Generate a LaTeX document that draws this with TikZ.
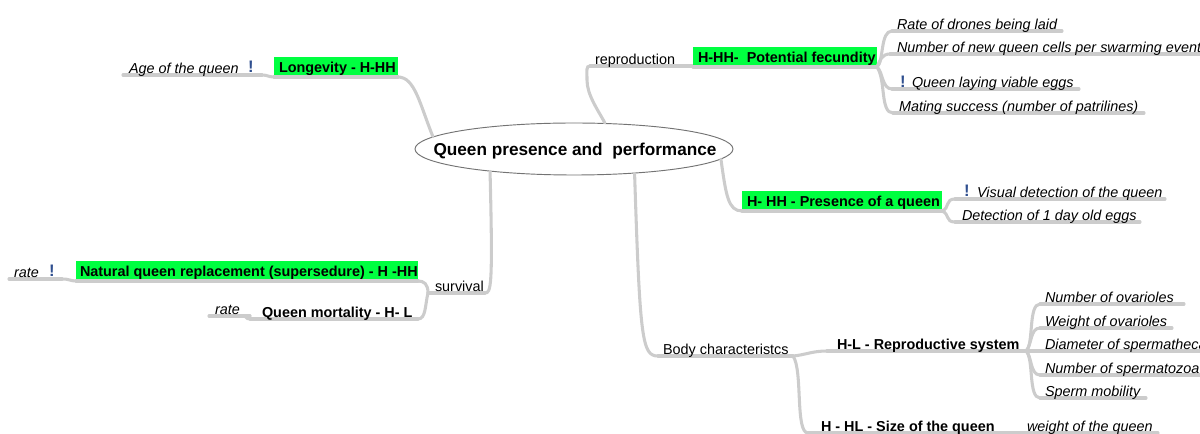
\documentclass[tikz,border=0pt]{standalone}
\usepackage{fontspec}
\usetikzlibrary{shapes.geometric,backgrounds}
\setmainfont{Liberation Sans}
\newlength\px \setlength\px{0.75pt}
\definecolor{branch}{HTML}{CCCCCC}
\definecolor{hl}{HTML}{00FF40}
\definecolor{icon}{HTML}{2F4F8F}
\tikzset{
  line/.style={draw=branch,line width=2.3pt,line cap=round},
  base/.style={anchor=south west,inner sep=0pt,outer sep=0pt,font=\fontsize{10.8}{12}\selectfont,text height=12.5\px,text depth=1.5\px},
  leaf/.style={base,font=\fontsize{10.8}{12}\selectfont\itshape},
  plain/.style={base},
  strong/.style={base,font=\fontsize{10.8}{12}\selectfont\bfseries},
  green/.style={base,font=\fontsize{10.8}{12}\selectfont\bfseries,fill=hl,text height=16\px,text depth=4\px},
  warn/.style={inner sep=0pt,text=icon,font=\fontsize{12.5}{13}\selectfont\bfseries}
}
% name, x0, x1, y of underline, style, text offset, text
\newcommand\tp[7]{%
  \node[#5] (#1) at (#2,#4) {\makebox[\dimexpr#3\px-#2\px\relax][l]{\hspace*{#6\px}#7}};
  \begin{pgfonlayer}{background}
  \draw[line] (#1.south west) -- (#1.south east);
  \end{pgfonlayer}
}
% same, for a green box, whose fill would hide a line drawn behind it
\newcommand\tpg[6]{%
  \node[green] (#1) at (#2,#4) {\makebox[\dimexpr#3\px-#2\px\relax][l]{\hspace*{#5\px}#6}};
  \draw[line] (#1.south west) -- (#1.south east);
}
\begin{document}
\begin{tikzpicture}[x=0.75pt,y=-0.75pt]
\useasboundingbox (0,0) rectangle (1200,434);
\node[ellipse,draw=black!55,fill=white,line width=0.7pt,minimum width=318\px,minimum height=52\px,inner sep=0pt,text height=16\px,text depth=2\px,font=\fontsize{12.9}{14}\selectfont\bfseries] (root) at (574,149) {\makebox[0pt]{\hspace*{2\px}Queen presence and\ \ performance}};
% upper left
\tp{age}{123}{262}{75}{leaf}{6}{Age of the queen}
\tpg{long}{274}{398}{77}{5}{Longevity - H-HH}
\node[warn] (w1) at (251,67) {!};
% left lower
\tp{rate1}{9}{62}{279}{leaf}{5}{rate}
\tpg{nat}{76}{418}{281}{4}{Natural queen replacement (supersedure) - H -HH}
\node[warn] (w2) at (52,271) {!};
\tp{surv}{428}{485}{293}{plain}{7}{survival}
\tp{rate2}{209}{250}{316}{leaf}{6}{rate}
\tp{mort}{250}{418}{319}{strong}{12}{Queen mortality - H- L}
% reproduction
\tp{repr}{590}{693}{66}{plain}{5}{reproduction}
\tpg{fec}{693}{877}{67}{5}{H-HH-\ \ Potential fecundity}
\tp{l1}{892}{1062}{31}{leaf}{5}{Rate of drones being laid}
\tp{l2}{890}{1200}{54}{leaf}{7}{Number of new queen cells per swarming event}
\tp{l3}{892}{1079}{89}{leaf}{20}{Queen laying viable eggs}
\node[warn] (w3) at (903,82) {!};
\tp{l4}{893}{1144}{113}{leaf}{6}{Mating success (number of patrilines)}
% presence
\tpg{pres}{742}{942}{211}{5}{H- HH - Presence of a queen}
\tp{v1}{955}{1165}{199}{leaf}{22}{Visual detection of the queen}
\node[warn] (w4) at (967,191) {!};
\tp{v2}{955}{1140}{222}{leaf}{7}{Detection of 1 day old eggs}
% body
\tp{body}{658}{793}{356}{plain}{5}{Body characteristcs}
\tp{repsys}{827}{1026}{351}{strong}{10}{H-L - Reproductive system}
\tp{b1}{1040}{1184}{304}{leaf}{5}{Number of ovarioles}
\tp{b2}{1040}{1172}{328}{leaf}{5}{Weight of ovarioles}
\tp{b3}{1040}{1200}{351}{leaf}{5}{Diameter of spermatheca}
\tp{b4}{1040}{1200}{375}{leaf}{5}{Number of spermatozoa}
\tp{b5}{1040}{1146}{398}{leaf}{5}{Sperm mobility}
\tp{size}{808}{1010}{433}{strong}{13}{H - HL - Size of the queen}
\tp{wq}{1010}{1158}{433}{leaf}{17}{weight of the queen}
% connectors
\draw[line] (long.south west) .. controls (268,77) and (268,75) .. (age.south east);
\draw[line] (long.south east) .. controls (415,77) and (420,105) .. (root.175);
\draw[line] (nat.south west) .. controls (70,281) and (70,279) .. (rate1.south east);
\draw[line] (nat.south east) .. controls (424,281) and (428,284) .. (surv.south west);
\draw[line] (mort.south east) .. controls (426,319) and (425,305) .. (surv.south west);
\draw[line] (mort.south west) .. controls (246,319) and (244,316) .. (rate2.south east);
\draw[line] (surv.south east) .. controls (491,293) and (493,288) .. (root.195.4);
\draw[line] (repr.south west) .. controls (586,66) and (587,70) .. (587,80) .. controls (587,95) and (598,110) .. (root.40);
\draw[line] (fec.south east) .. controls (884,62) and (880,31) .. (l1.south west);
\draw[line] (fec.south east) .. controls (880,60) and (882,54) .. (l2.south west);
\draw[line] (fec.south east) .. controls (883,72) and (882,89) .. (l3.south west);
\draw[line] (fec.south east) .. controls (886,80) and (880,113) .. (l4.south west);
\draw[line] (pres.south west) .. controls (728,211) and (726,195) .. (root.-4);
\draw[line] (pres.south east) .. controls (950,208) and (945,199) .. (v1.south west);
\draw[line] (pres.south east) .. controls (950,214) and (945,222) .. (v2.south west);
\draw[line] (body.south west) .. controls (642,356) and (640,340) .. (root.-22);
\draw[line] (body.south east) .. controls (805,355) and (812,351) .. (repsys.south west);
\draw[line] (body.south east) .. controls (803,370) and (795,433) .. (size.south west);
\draw[line] (repsys.south east) .. controls (1034,345) and (1028,304) .. (b1.south west);
\draw[line] (repsys.south east) .. controls (1032,345) and (1030,328) .. (b2.south west);
\draw[line] (repsys.south east) -- (b3.south west);
\draw[line] (repsys.south east) .. controls (1032,356) and (1030,375) .. (b4.south west);
\draw[line] (repsys.south east) .. controls (1034,358) and (1028,398) .. (b5.south west);
\end{tikzpicture}
\end{document}
